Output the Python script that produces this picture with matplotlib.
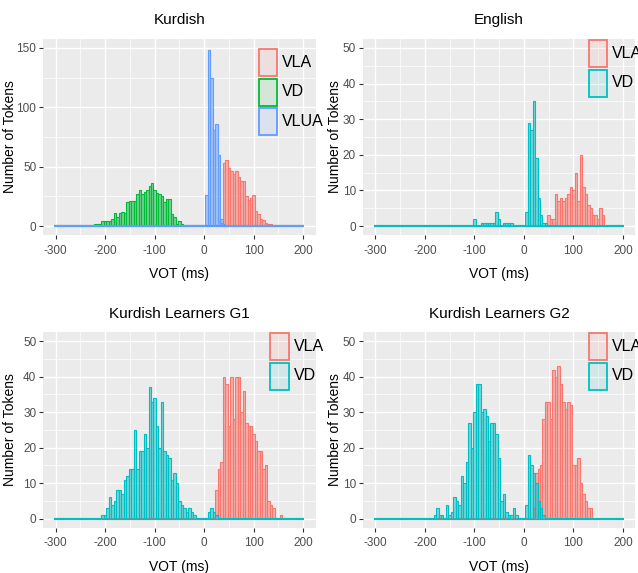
import numpy as np
import matplotlib
matplotlib.use("Agg")
import matplotlib.pyplot as plt
from matplotlib.patches import Rectangle
from matplotlib.colors import to_rgba

plt.rcParams['font.family'] = ['Liberation Sans', 'DejaVu Sans']
plt.rcParams['axes.unicode_minus'] = False

# 5 ms bins, centres from -300 to 200 ms
bin_centers = np.arange(-300, 205, 5)

# counts, each list starts at the given bin centre
kurdish_vla_start = 35
kurdish_vla = [3, 53, 56, 49, 46, 44, 46, 41, 38, 38, 25, 22, 24, 26, 13, 10, 6, 5, 3, 2,
               2, 1, 1, 1, 1]
kurdish_vd_start = -220
kurdish_vd = [2, 2, 2, 4, 4, 4, 4, 6, 11, 8, 11, 12, 11, 20, 21, 21, 21, 27, 30, 27,
              29, 30, 34, 36, 30, 28, 27, 25, 20, 23, 23, 10, 8, 2, 4, 2, 1]
kurdish_vlua_start = 5
kurdish_vlua = [26, 148, 125, 81, 86, 60, 6, 2]

english_vla_start = 50
english_vla = [3, 2, 2, 9, 7, 8, 7, 8, 9, 11, 10, 15, 7, 20, 11, 9, 6, 5, 3, 3, 2, 5, 3]
english_vd_start = -100
english_vd = [2, 0, 0, 1, 1, 1, 1, 1, 1, 4, 2, 0, 1, 1, 1, 1, 0, 0, 0, 0,
              0, 4, 29, 27, 35, 19, 8, 3, 1, 1]

g1_vla_start = 25
g1_vla = [8, 14, 16, 40, 38, 26, 40, 28, 40, 40, 30, 36, 27, 26, 26, 24, 22, 19, 19, 14,
          15, 5, 4, 3, 0, 0, 1]
g1_vd_start = -205
g1_vd = [1, 1, 3, 6, 4, 5, 8, 8, 7, 11, 12, 14, 14, 25, 14, 19, 19, 24, 20, 37,
         33, 34, 26, 20, 33, 19, 18, 17, 11, 13, 10, 5, 4, 3, 2, 3, 2, 1, 0, 0,
         0, 0, 0, 2, 3, 2, 1]

g2_vla_start = 20
g2_vla = [3, 13, 14, 15, 28, 33, 33, 28, 42, 40, 43, 38, 33, 31, 33, 32, 15, 15, 17, 10,
          7, 5, 3, 3]
g2_vd_start = -180
g2_vd = [1, 3, 1, 1, 0, 4, 1, 2, 6, 5, 4, 12, 10, 16, 27, 20, 30, 38, 38, 30,
         31, 29, 22, 27, 27, 24, 17, 5, 7, 2, 1, 1, 3, 1, 0, 0, 0, 4, 18, 15,
         13, 10, 5, 3, 1]

RED = "#F8766D"
GREEN = "#00BA38"
BLUE = "#619CFF"
TEAL = "#00BFC4"

W, H = 638, 573


def full_counts(start, counts):
    out = np.zeros(len(bin_centers))
    i0 = int((start + 300) / 5)
    out[i0:i0 + len(counts)] = counts
    return out


def px_box(left, top, right, bottom):
    return [left / W, 1 - bottom / H, (right - left) / W, (bottom - top) / H]


def draw_panel(ax, title, series, ytop, ystep, ylab_x):
    ax.set_facecolor("#EBEBEB")
    for name, color, start, counts in series:
        c = full_counts(start, counts)
        # empty bins collapse to a flat outline along zero; make it a bit heavier
        lws = np.where(c > 0, 0.8, 1.5)
        ax.bar(bin_centers, c, width=5, facecolor=to_rgba(color, 0.5),
               edgecolor=color, linewidth=lws)
    ax.set_xlim(-325, 225)
    ax.set_ylim(-0.05 * ytop, 1.05 * ytop)
    ax.set_xticks(np.arange(-300, 201, 100))
    ax.set_xticks(np.arange(-250, 200, 100), minor=True)
    ax.set_yticks(np.arange(0, ytop + 1, ystep))
    ax.set_yticks(np.arange(ystep / 2, ytop, ystep), minor=True)
    ax.grid(which="major", color="white", linewidth=1.0)
    ax.grid(which="minor", color="white", linewidth=0.5)
    ax.set_axisbelow(True)
    for s in ax.spines.values():
        s.set_visible(False)
    ax.tick_params(which="major", length=3, width=0.8, color="#333333",
                   labelcolor="#4D4D4D", labelsize=8.5, pad=2)
    ax.tick_params(axis="x", which="major", pad=4)
    ax.tick_params(which="minor", length=0)
    ax.set_title(title, fontsize=11, pad=10.5)
    ax.set_xlabel("VOT (ms)", fontsize=10)
    ax.xaxis.set_label_coords(0.5, -0.165)
    ax.set_ylabel("Number of Tokens", fontsize=10)
    ax.yaxis.set_label_coords(ylab_x, 0.5)


def draw_legend(fig, items, left, top):
    w, h, pitch = 18.5, 27, 29.5
    for i, (label, color) in enumerate(items):
        y = top + i * pitch
        fig.add_artist(Rectangle((left / W, 1 - (y + h) / H), w / W, h / H,
                                 transform=fig.transFigure, facecolor=to_rgba(color, 0.1),
                                 edgecolor=color, linewidth=1.3))
        fig.text((left + w + 5) / W, 1 - (y + h / 2) / H, label, fontsize=11.5,
                 va="center", ha="left")


fig = plt.figure(figsize=(6.38, 5.73), dpi=100)

ax1 = fig.add_axes(px_box(43.3, 39, 315.6, 235))
draw_panel(ax1, "Kurdish",
           [("VLA", RED, kurdish_vla_start, kurdish_vla),
            ("VD", GREEN, kurdish_vd_start, kurdish_vd),
            ("VLUA", BLUE, kurdish_vlua_start, kurdish_vlua)], 150, 50, -0.095)

ax2 = fig.add_axes(px_box(363, 39, 635.3, 235))
draw_panel(ax2, "English",
           [("VLA", RED, english_vla_start, english_vla),
            ("VD", TEAL, english_vd_start, english_vd)], 50, 10, -0.077)

ax3 = fig.add_axes(px_box(43.3, 332.3, 315.6, 527.6))
draw_panel(ax3, "Kurdish Learners G1",
           [("VLA", RED, g1_vla_start, g1_vla),
            ("VD", TEAL, g1_vd_start, g1_vd)], 50, 10, -0.095)

ax4 = fig.add_axes(px_box(363, 332.3, 635.3, 527.6))
draw_panel(ax4, "Kurdish Learners G2",
           [("VLA", RED, g2_vla_start, g2_vla),
            ("VD", TEAL, g2_vd_start, g2_vd)], 50, 10, -0.077)

draw_legend(fig, [("VLA", RED), ("VD", GREEN), ("VLUA", BLUE)], 258.5, 49)
draw_legend(fig, [("VLA", RED), ("VD", TEAL)], 588.5, 40)
draw_legend(fig, [("VLA", RED), ("VD", TEAL)], 270, 333)
draw_legend(fig, [("VLA", RED), ("VD", TEAL)], 588.5, 333)

fig.savefig("out.png", dpi=100)
